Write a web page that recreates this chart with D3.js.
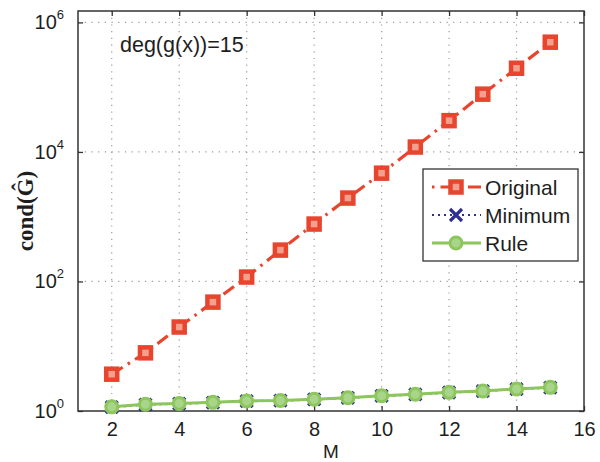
<!DOCTYPE html>
<html>
<head>
<meta charset="utf-8">
<script src="https://cdn.jsdelivr.net/npm/d3@7"></script>
<style>
  html, body { margin: 0; padding: 0; background: #fff; }
  svg { display: block; }
</style>
</head>
<body>
<svg id="chart" width="600" height="462" font-family="Liberation Sans, Arial, sans-serif"></svg>
<script>
// Condition number vs. M for deg(g(x)) = 15
const mValues = [2, 3, 4, 5, 6, 7, 8, 9, 10, 11, 12, 13, 14, 15];
const originalCond = [3.7, 7.9, 19.8, 48, 117, 305, 770, 1940, 4700, 11900, 30400, 78000, 196000, 495000];
const minimumCond  = [1.15, 1.25, 1.30, 1.35, 1.42, 1.44, 1.51, 1.59, 1.71, 1.80, 1.93, 2.03, 2.18, 2.30];
const ruleCond     = [1.16, 1.27, 1.31, 1.36, 1.43, 1.45, 1.52, 1.60, 1.72, 1.81, 1.94, 2.04, 2.19, 2.32];
const xTicks = [2, 4, 6, 8, 10, 12, 14, 16];
const yTickExps = [0, 2, 4, 6];
const seriesNames = ["Original", "Minimum", "Rule"];

const svg = d3.select("#chart");
const plotLeft = 78, plotRight = 584, plotTop = 11, plotBottom = 411;

const x = d3.scaleLinear().domain([1, 16]).range([plotLeft, plotRight]);
const y = d3.scaleLog().domain([1, 1.5e6]).range([plotBottom, plotTop]);

const axisColor = "#333";
const textColor = "#1e1e1e";
const red = "#e8452f", blue = "#2e2f8f", green = "#8cc65c";

// grid
const grid = svg.append("g");
grid.selectAll(".gx").data(xTicks.slice(0, -1)).enter().append("line")
  .attr("x1", d => x(d)).attr("x2", d => x(d))
  .attr("y1", plotTop).attr("y2", plotBottom)
  .attr("stroke", "#9a9a9a").attr("stroke-width", 1.2)
  .attr("stroke-dasharray", "1.2,5.5");
grid.selectAll(".gy").data(yTickExps.slice(1)).enter().append("line")
  .attr("x1", plotLeft).attr("x2", plotRight)
  .attr("y1", d => y(Math.pow(10, d))).attr("y2", d => y(Math.pow(10, d)))
  .attr("stroke", "#9a9a9a").attr("stroke-width", 1.2)
  .attr("stroke-dasharray", "1.2,5.5");

// axes with inward ticks
const xAxis = d3.axisBottom(x).tickValues(xTicks).tickSize(-5).tickPadding(11).tickFormat(d3.format("d"));
const gx = svg.append("g").attr("transform", `translate(0,${plotBottom})`).call(xAxis);
gx.attr("font-family", null).attr("font-size", null);
gx.select(".domain").remove();
gx.selectAll(".tick line").attr("stroke", axisColor).attr("stroke-width", 1.3);
gx.selectAll(".tick text").attr("font-size", 20).attr("fill", textColor);

const xTop = d3.axisTop(x).tickValues(xTicks).tickSize(-5).tickFormat("");
const gxt = svg.append("g").attr("transform", `translate(0,${plotTop})`).call(xTop);
gxt.select(".domain").remove();
gxt.selectAll(".tick line").attr("stroke", axisColor).attr("stroke-width", 1.3);

const yVals = yTickExps.map(e => Math.pow(10, e));
const yAxis = d3.axisLeft(y).tickValues(yVals).tickSize(-5).tickFormat("");
const gy = svg.append("g").attr("transform", `translate(${plotLeft},0)`).call(yAxis);
gy.select(".domain").remove();
gy.selectAll(".tick line").attr("stroke", axisColor).attr("stroke-width", 1.3);

const yRight = d3.axisRight(y).tickValues(yVals).tickSize(-5).tickFormat("");
const gyr = svg.append("g").attr("transform", `translate(${plotRight},0)`).call(yRight);
gyr.select(".domain").remove();
gyr.selectAll(".tick line").attr("stroke", axisColor).attr("stroke-width", 1.3);

// y tick labels as 10^n
const yl = svg.append("g");
yTickExps.forEach(e => {
  const t = yl.append("text")
    .attr("x", 64).attr("y", y(Math.pow(10, e)) + 7)
    .attr("text-anchor", "end").attr("font-size", 20).attr("fill", textColor);
  t.append("tspan").text("10");
  t.append("tspan").attr("dy", -10).attr("font-size", 13).text(String(e));
});

// box
svg.append("rect").attr("x", plotLeft).attr("y", plotTop)
  .attr("width", plotRight - plotLeft).attr("height", plotBottom - plotTop)
  .attr("fill", "none").attr("stroke", axisColor).attr("stroke-width", 1.5);

// axis titles
svg.append("text").attr("x", (plotLeft + plotRight) / 2).attr("y", 458)
  .attr("text-anchor", "middle").attr("font-size", 19).attr("fill", textColor).text("M");
svg.append("text")
  .attr("transform", "translate(33,211) rotate(-90)")
  .attr("text-anchor", "middle")
  .attr("font-family", "Liberation Serif, Times New Roman, serif")
  .attr("font-weight", "bold").attr("font-size", 23).attr("fill", textColor)
  .text("cond(Ĝ)");

// annotation
svg.append("text").attr("x", 120).attr("y", 52).attr("font-size", 21.5).attr("fill", textColor).text("deg(g(x))=15");

// series
const line = d3.line().x(d => x(d[0])).y(d => y(d[1]));
const origData = mValues.map((m, i) => [m, originalCond[i]]);
const minData = mValues.map((m, i) => [m, minimumCond[i]]);
const ruleData = mValues.map((m, i) => [m, ruleCond[i]]);

const plot = svg.append("g");

function squareMarker(g, cx, cy) {
  g.append("rect").attr("x", cx - 5.5).attr("y", cy - 5.5).attr("width", 11).attr("height", 11)
    .attr("fill", "#f3a08f").attr("stroke", red).attr("stroke-width", 4.5);
}
function crossMarker(g, cx, cy) {
  const s = 6;
  g.append("path").attr("d", `M${cx - s},${cy - s}L${cx + s},${cy + s}M${cx - s},${cy + s}L${cx + s},${cy - s}`)
    .attr("stroke", blue).attr("stroke-width", 3.2).attr("fill", "none");
}
function circleMarker(g, cx, cy) {
  g.append("circle").attr("cx", cx).attr("cy", cy).attr("r", 6)
    .attr("fill", "#a9d58a").attr("stroke", green).attr("stroke-width", 3);
}

// Original
plot.append("path").datum(origData).attr("d", line)
  .attr("fill", "none").attr("stroke", red).attr("stroke-width", 3.2)
  .attr("stroke-dasharray", "13,6,2.5,6");
origData.forEach(d => squareMarker(plot, x(d[0]), y(d[1])));

// Minimum
plot.append("path").datum(minData).attr("d", line)
  .attr("fill", "none").attr("stroke", blue).attr("stroke-width", 2.2)
  .attr("stroke-dasharray", "2,4");
minData.forEach(d => crossMarker(plot, x(d[0]), y(d[1])));

// Rule
plot.append("path").datum(ruleData).attr("d", line)
  .attr("fill", "none").attr("stroke", green).attr("stroke-width", 3);
ruleData.forEach(d => circleMarker(plot, x(d[0]), y(d[1])));

// legend
const lg = svg.append("g");
lg.append("rect").attr("x", 423).attr("y", 169).attr("width", 155).attr("height", 92)
  .attr("fill", "#fff").attr("stroke", axisColor).attr("stroke-width", 1.3);
const rows = [
  { name: seriesNames[0], y: 187, draw: (g, cy) => {
      g.append("line").attr("x1", 432).attr("x2", 481).attr("y1", cy).attr("y2", cy)
        .attr("stroke", red).attr("stroke-width", 3.2).attr("stroke-dasharray", "2.5,6,13,6");
      squareMarker(g, 456, cy);
  } },
  { name: seriesNames[1], y: 215, draw: (g, cy) => {
      g.append("line").attr("x1", 432).attr("x2", 481).attr("y1", cy).attr("y2", cy)
        .attr("stroke", blue).attr("stroke-width", 2.2).attr("stroke-dasharray", "2,4");
      crossMarker(g, 456, cy);
  } },
  { name: seriesNames[2], y: 243, draw: (g, cy) => {
      g.append("line").attr("x1", 432).attr("x2", 481).attr("y1", cy).attr("y2", cy)
        .attr("stroke", green).attr("stroke-width", 3);
      circleMarker(g, 456, cy);
  } }
];
rows.forEach(r => {
  r.draw(lg, r.y);
  lg.append("text").attr("x", 485).attr("y", r.y + 8).attr("font-size", 21).attr("fill", textColor).text(r.name);
});
</script>
</body>
</html>
